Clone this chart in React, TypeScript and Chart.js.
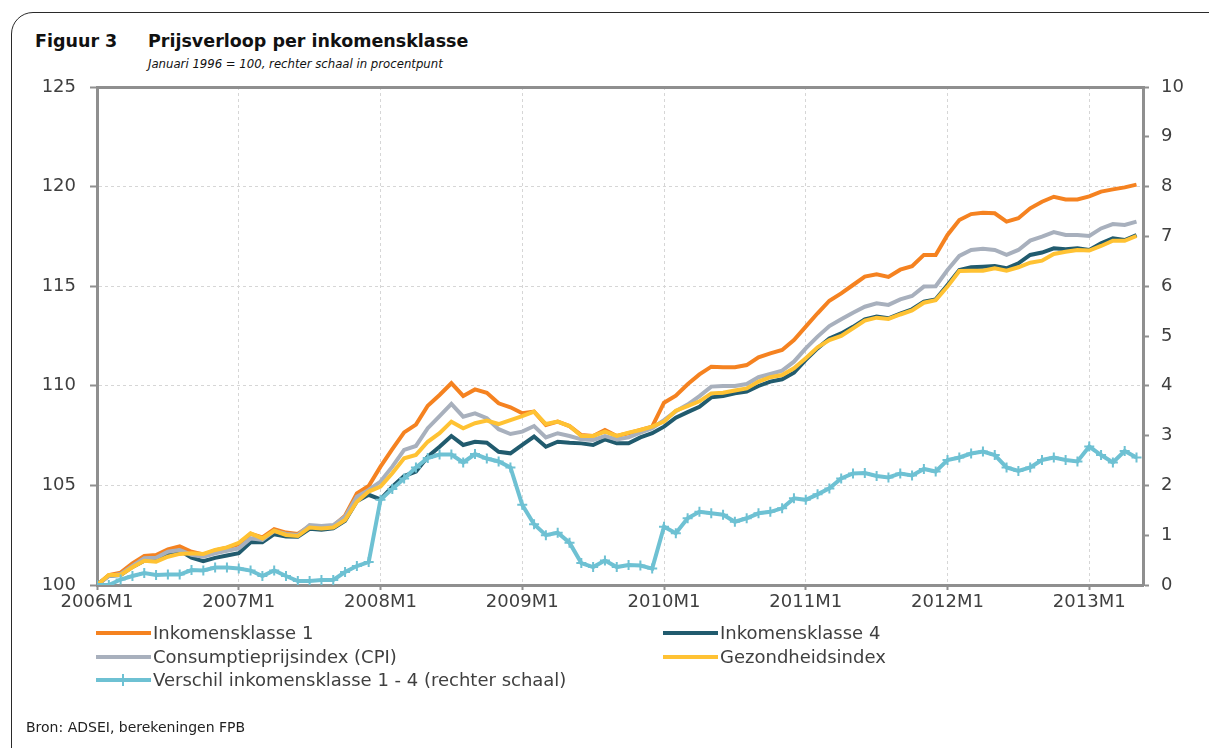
import React, { useEffect, useRef } from "react";
import { Chart, registerables } from "chart.js";

Chart.register(...registerables);

const FONT = "'DejaVu Sans', Verdana, sans-serif";

// x axis: monthly observations 2006M1 .. 2013M5 (index 0 .. 88)
const yearTickIdx = [0, 12, 24, 36, 48, 60, 72, 84];
const yearLabels = ["2006M1", "2007M1", "2008M1", "2009M1", "2010M1", "2011M1", "2012M1", "2013M1"];
const xMax = 88.55;

// left axis (index) and right axis (procentpunt)
const leftMin = 100;
const leftMax = 125;
const leftStep = 5;
const rightMin = 0;
const rightMax = 10;
const rightStep = 1;

const inkomensklasse1 = [
  100.0, 100.5, 100.62, 101.09, 101.46, 101.5, 101.79, 101.94, 101.67, 101.53, 101.74, 101.87,
  102.05, 102.57, 102.39, 102.8, 102.63, 102.56, 102.96, 102.92, 102.96, 103.48, 104.6, 104.97,
  105.94, 106.82, 107.66, 108.05, 109.0, 109.54, 110.13, 109.49, 109.82, 109.65, 109.12, 108.92,
  108.62, 108.7, 108.03, 108.2, 107.98, 107.53, 107.48, 107.78, 107.48, 107.62, 107.78, 107.95,
  109.15, 109.5, 110.08, 110.57, 110.96, 110.93, 110.93, 111.04, 111.43, 111.63, 111.8, 112.3,
  112.97, 113.64, 114.27, 114.64, 115.06, 115.48, 115.6, 115.47, 115.83, 116.0, 116.57, 116.57,
  117.57, 118.32, 118.62, 118.69, 118.66, 118.24, 118.41, 118.91, 119.24, 119.49, 119.35, 119.35,
  119.51, 119.75, 119.86, 119.96, 120.1,
];

const inkomensklasse4 = [
  100.0, 100.47, 100.5, 100.91, 101.22, 101.3, 101.58, 101.73, 101.37, 101.2, 101.36, 101.48,
  101.6, 102.15, 102.15, 102.55, 102.44, 102.42, 102.82, 102.78, 102.85, 103.22, 104.2, 104.53,
  104.3, 104.94, 105.47, 105.69, 106.44, 106.94, 107.48, 107.03, 107.19, 107.14, 106.69, 106.61,
  107.03, 107.45, 106.94, 107.19, 107.14, 107.11, 107.03, 107.31, 107.11, 107.11, 107.41, 107.62,
  107.95, 108.4, 108.68, 108.95, 109.42, 109.49, 109.62, 109.71, 109.99, 110.21, 110.33, 110.66,
  111.3, 111.88, 112.38, 112.63, 112.96, 113.34, 113.48, 113.39, 113.62, 113.84, 114.22, 114.34,
  115.06, 115.81, 115.95, 115.98, 116.01, 115.9, 116.15, 116.57, 116.69, 116.9, 116.85, 116.9,
  116.82, 117.15, 117.4, 117.32, 117.57,
];

const consumptieprijsindex = [
  100.0, 100.45, 100.55, 100.96, 101.34, 101.37, 101.67, 101.76, 101.51, 101.42, 101.59, 101.72,
  101.84, 102.34, 102.26, 102.72, 102.56, 102.51, 103.01, 102.96, 103.01, 103.43, 104.43, 104.77,
  105.19, 105.94, 106.78, 106.98, 107.87, 108.48, 109.09, 108.45, 108.62, 108.37, 107.82, 107.58,
  107.7, 107.98, 107.41, 107.62, 107.48, 107.31, 107.28, 107.48, 107.31, 107.41, 107.65, 107.87,
  108.28, 108.72, 109.06, 109.48, 109.96, 109.99, 109.99, 110.09, 110.43, 110.59, 110.76, 111.21,
  111.88, 112.47, 113.0, 113.34, 113.67, 113.97, 114.14, 114.06, 114.34, 114.51, 114.98, 115.0,
  115.81, 116.52, 116.82, 116.88, 116.82, 116.57, 116.82, 117.29, 117.49, 117.72, 117.57, 117.57,
  117.52, 117.9, 118.12, 118.07, 118.24,
];

const gezondheidsindex = [
  100.0, 100.5, 100.5, 100.89, 101.22, 101.17, 101.42, 101.56, 101.59, 101.56, 101.76, 101.89,
  102.12, 102.59, 102.34, 102.72, 102.51, 102.46, 102.89, 102.84, 102.89, 103.26, 104.18, 104.69,
  104.94, 105.61, 106.36, 106.53, 107.19, 107.62, 108.2, 107.87, 108.12, 108.25, 108.08, 108.28,
  108.48, 108.7, 108.08, 108.2, 107.98, 107.48, 107.48, 107.7, 107.48, 107.65, 107.78, 107.95,
  108.2, 108.75, 108.98, 109.22, 109.62, 109.65, 109.76, 109.87, 110.21, 110.43, 110.54, 110.88,
  111.38, 111.93, 112.3, 112.5, 112.88, 113.27, 113.42, 113.36, 113.58, 113.78, 114.17, 114.3,
  114.98, 115.76, 115.78, 115.78, 115.9, 115.78, 115.95, 116.18, 116.28, 116.62, 116.73, 116.82,
  116.79, 117.02, 117.28, 117.28, 117.52,
];

const verschil = [
  0.0, 0.0, 0.11, 0.18, 0.24, 0.2, 0.21, 0.21, 0.3, 0.29, 0.35, 0.35,
  0.33, 0.29, 0.18, 0.29, 0.18, 0.08, 0.08, 0.1, 0.1, 0.26, 0.38, 0.46,
  1.71, 1.93, 2.14, 2.36, 2.55, 2.62, 2.62, 2.46, 2.63, 2.54, 2.48, 2.36,
  1.61, 1.22, 1.0, 1.05, 0.85, 0.44, 0.36, 0.49, 0.36, 0.4, 0.39, 0.33,
  1.17, 1.04, 1.34, 1.47, 1.44, 1.41, 1.27, 1.34, 1.44, 1.47, 1.54, 1.74,
  1.71, 1.82, 1.94, 2.14, 2.24, 2.25, 2.19, 2.16, 2.24, 2.2, 2.33, 2.28,
  2.51, 2.56, 2.64, 2.68, 2.61, 2.36, 2.29, 2.36, 2.51, 2.56, 2.51, 2.48,
  2.78, 2.61, 2.46, 2.69, 2.56,
];

const seriesLabels = [
  "Inkomensklasse 1",
  "Inkomensklasse 4",
  "Consumptieprijsindex (CPI)",
  "Gezondheidsindex",
  "Verschil inkomensklasse 1 - 4 (rechter schaal)",
];
const seriesColors = ["#F58220", "#215B6E", "#A8B0BD", "#FFC233", "#6EC1D3"];
const seriesValues = [inkomensklasse1, inkomensklasse4, consumptieprijsindex, gezondheidsindex, verschil];
const seriesAxis = ["y", "y", "y", "y", "y2"];
const seriesOrder = [4, 3, 2, 1, 0];

const AXIS = "#8f8f8f";
const GRID = "#d6d6d6";
const TEXT = "#3f3f3f";

const legendRows: number[][] = [[0, 1], [2, 3], [4]];

export default function App() {
  const ref = useRef<HTMLCanvasElement | null>(null);

  useEffect(() => {
    if (!ref.current) return;
    const datasets = seriesValues.map((vals, s) => ({
      label: seriesLabels[s],
      data: vals.map((v, i) => ({ x: i, y: v })),
      borderColor: seriesColors[s],
      backgroundColor: seriesColors[s],
      borderWidth: 4,
      yAxisID: seriesAxis[s],
      order: seriesOrder[s],
      tension: 0,
      pointRadius: s === 4 ? 5 : 0,
      pointStyle: "cross" as const,
      pointBorderWidth: 2,
      pointBorderColor: seriesColors[s],
      fill: false,
    }));

    const tickFont = { family: FONT, size: 18 };
    const isTop = (c: any) => c && c.tick && c.tick.value === leftMax;

    const chart = new Chart(ref.current, {
      type: "line",
      data: { datasets },
      options: {
        animation: false,
        responsive: false,
        events: [],
        layout: { padding: { top: 87, left: 0, right: 0, bottom: 123 } },
        plugins: { legend: { display: false }, tooltip: { enabled: false } },
        scales: {
          x: {
            type: "linear",
            min: 0,
            max: xMax,
            afterBuildTicks: (axis: any) => {
              axis.ticks = yearTickIdx.map((v) => ({ value: v }));
            },
            afterFit: (axis: any) => {
              axis.height = 40;
            },
            ticks: {
              autoSkip: false,
              maxRotation: 0,
              padding: 2,
              color: TEXT,
              font: tickFont,
              callback: (v: any) => {
                const k = yearTickIdx.indexOf(Number(v));
                return k >= 0 ? yearLabels[k] : null;
              },
            },
            grid: { color: GRID, lineWidth: 1, tickLength: 5, tickColor: AXIS, tickWidth: 2 },
            border: { color: AXIS, width: 3, dash: [3, 3] },
          },
          y: {
            position: "left",
            min: leftMin,
            max: leftMax,
            afterFit: (axis: any) => {
              axis.width = 97;
            },
            ticks: { stepSize: leftStep, padding: 14, color: TEXT, font: tickFont },
            grid: {
              color: (c: any) => (isTop(c) ? AXIS : GRID),
              lineWidth: (c: any) => (isTop(c) ? 3 : 1),
              tickLength: 7,
              tickColor: AXIS,
              tickWidth: 2,
            },
            border: { color: AXIS, width: 3, dash: (c: any) => (isTop(c) ? [] : [3, 3]) },
          },
          y2: {
            position: "right",
            min: rightMin,
            max: rightMax,
            afterFit: (axis: any) => {
              axis.width = 66;
            },
            ticks: { stepSize: rightStep, padding: 12, color: TEXT, font: tickFont },
            grid: { drawOnChartArea: false, tickLength: 6, tickColor: AXIS, tickWidth: 2 },
            border: { color: AXIS, width: 3 },
          },
        },
      } as any,
    });
    return () => chart.destroy();
  }, []);

  const legendItem = (s: number, left: number, top: number) => (
    <div key={s} style={{ position: "absolute", left, top, height: 24, width: 560 }}>
      <div
        style={{
          position: "absolute",
          left: 0,
          top: 10,
          width: 55,
          height: 4,
          background: seriesColors[s],
        }}
      />
      {s === 4 ? (
        <div
          style={{
            position: "absolute",
            left: 26,
            top: 6,
            width: 2,
            height: 12,
            background: seriesColors[s],
          }}
        />
      ) : null}
      <div
        style={{
          position: "absolute",
          left: 57,
          top: 0,
          lineHeight: "24px",
          fontSize: 18,
          fontFamily: FONT,
          color: TEXT,
          whiteSpace: "nowrap",
        }}
      >
        {seriesLabels[s]}
      </div>
    </div>
  );

  return (
    <div
      style={{
        position: "fixed",
        left: 0,
        top: 0,
        width: 1209,
        height: 748,
        overflow: "hidden",
        background: "#fff",
      }}
    >
      <div
        style={{
          position: "absolute",
          left: 11,
          top: 12,
          width: 1260,
          height: 800,
          border: "1.5px solid #2a2a2a",
          borderTopLeftRadius: 22,
          boxSizing: "border-box",
        }}
      />
      <div
        style={{
          position: "absolute",
          left: 35,
          top: 31,
          fontFamily: FONT,
          fontWeight: "bold",
          fontSize: 17.5,
          color: "#111",
          whiteSpace: "nowrap",
        }}
      >
        Figuur 3
      </div>
      <div
        style={{
          position: "absolute",
          left: 148,
          top: 31,
          fontFamily: FONT,
          fontWeight: "bold",
          fontSize: 17.5,
          color: "#111",
          whiteSpace: "nowrap",
        }}
      >
        Prijsverloop per inkomensklasse
      </div>
      <div
        style={{
          position: "absolute",
          left: 148,
          top: 56,
          fontFamily: FONT,
          fontStyle: "italic",
          fontStretch: "condensed",
          fontSize: 13,
          color: "#111",
          whiteSpace: "nowrap",
        }}
      >
        Januari 1996 = 100, rechter schaal in procentpunt
      </div>
      <canvas
        ref={ref}
        width={1209}
        height={748}
        style={{ position: "absolute", left: 0, top: 0, width: 1209, height: 748 }}
      />
      {legendRows.map((row, r) =>
        row.map((s, c) => legendItem(s, c === 0 ? 96 : 663, 621 + r * 23.5))
      )}
      <div
        style={{
          position: "absolute",
          left: 26,
          top: 719,
          fontFamily: FONT,
          fontSize: 14,
          color: "#222",
          whiteSpace: "nowrap",
        }}
      >
        Bron: ADSEI, berekeningen FPB
      </div>
    </div>
  );
}
